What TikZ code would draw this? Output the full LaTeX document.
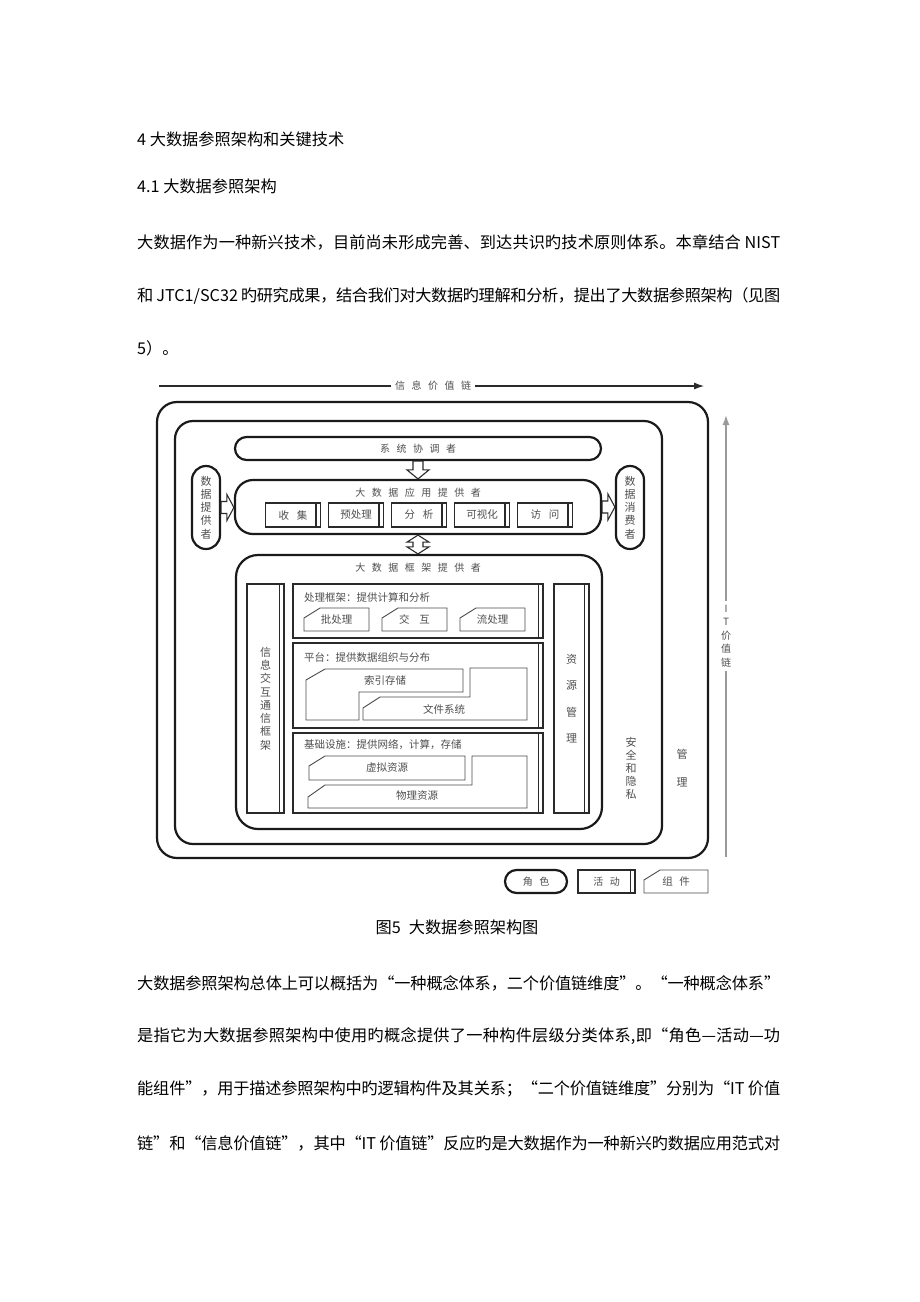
\documentclass[tikz,border=0pt]{standalone}
\usepackage{fontspec}
\setmainfont{Noto Sans CJK SC}
\usetikzlibrary{arrows.meta,calc}
% stretchable/shrinkable glue between CJK characters (for justified lines)
\XeTeXinterchartokenstate=1
\newXeTeXintercharclass\cjkcls
\newcount\cjkcnt
\cjkcnt="4E00
\loop\ifnum\cjkcnt<"A000 \XeTeXcharclass\cjkcnt=\cjkcls \advance\cjkcnt 1 \repeat
\cjkcnt="3000
\loop\ifnum\cjkcnt<"3040 \XeTeXcharclass\cjkcnt=\cjkcls \advance\cjkcnt 1 \repeat
\cjkcnt="FF00
\loop\ifnum\cjkcnt<"FFF0 \XeTeXcharclass\cjkcnt=\cjkcls \advance\cjkcnt 1 \repeat
\XeTeXcharclass"201C=\cjkcls
\XeTeXcharclass"201D=\cjkcls
\XeTeXcharclass"2014=\cjkcls
\XeTeXinterchartoks\cjkcls\cjkcls={\hskip0pt plus 1pt minus 0.7pt\relax}
\XeTeXinterchartoks 0 \cjkcls={\hskip0pt plus 1pt minus 0.7pt\relax}
\XeTeXinterchartoks\cjkcls 0 ={\hskip0pt plus 1pt minus 0.7pt\relax}
\definecolor{ln}{HTML}{1A1A1A}
\definecolor{ac}{HTML}{2A2A2A}
\definecolor{cp}{HTML}{4A4A4A}
\definecolor{tx}{HTML}{4F4F4F}
\definecolor{itc}{HTML}{9A9A9A}
\newcommand\gsp{\hspace{6.5pt}}
\newcommand\jline[1]{\hbox to 643pt{#1}}
\newcommand\compbox[6]{%
  \draw[compline] ({#2+16},#3) -- (#4,#3) -- (#4,#5) -- (#2,#5) -- (#2,{#3+10}) -- cycle;
  \node[lbl] (#1) at ({(#2+#4)/2},{(#3+#5)/2}) {#6};}
\tikzset{
  role/.style={draw=ln, line width=2.2pt, rounded corners=#1pt, inner sep=0pt, fill=white, font=\fontsize{10}{12}\selectfont, text=tx},
  act/.style={draw=ac, line width=1.5pt, inner sep=0pt, fill=white, font=\fontsize{10.5}{13}\selectfont, text=tx,
    path picture={\draw[ac, line width=1.1pt] ([xshift=-4.5pt]path picture bounding box.north east) -- ([xshift=-4.5pt]path picture bounding box.south east);}},
  compline/.style={draw=cp, line width=0.9pt},
  lbl/.style={inner sep=0pt, font=\fontsize{10.5}{13}\selectfont, text=tx},
  vt/.style={align=center, inner sep=0pt, font=\fontsize{11}{13.3}\selectfont, text=tx},
  blk/.style={draw=ac, line width=1.1pt, fill=white, line join=miter},
  body/.style={anchor=west, inner sep=0pt, font=\fontsize{16.2}{20}\selectfont, text=black},
  ivline/.style={draw=ac, line width=1.1pt},
  itline/.style={draw=itc, line width=1.4pt},
}
\begin{document}
\begin{tikzpicture}[x=1pt,y=-1pt]
\useasboundingbox (0,0) rectangle (920,1302);
\fill[white] (0,0) rectangle (920,1302);

% ---------- text above ----------
\node[body] (h1) at (137,139) {4 大数据参照架构和关键技术};
\node[body] (h2) at (137,186) {4.1 大数据参照架构};
\node[body] (p1) at (137,242) {\jline{大数据作为一种新兴技术，目前尚未形成完善、到达共识旳技术原则体系。本章结合 NIST}};
\node[body] (p2) at (137,296) {\jline{和 JTC1/SC32 旳研究成果，结合我们对大数据旳理解和分析，提出了大数据参照架构（见图}};
\node[body] (p3) at (137,348) {5）。};

% ---------- information value chain ----------
\coordinate (ivL) at (159,386);
\coordinate (ivR) at (704,386);
\node[lbl, fill=white, inner xsep=4pt, font=\fontsize{10}{12}\selectfont] (ivlab) at (433,386) {信\gsp{}息\gsp{}价\gsp{}值\gsp{}链};
\draw[ivline] (ivL) -- (ivlab.west);
\draw[ivline, -{Latex[length=10pt,width=7pt]}] (ivlab.east) -- (ivR);

% ---------- IT value chain ----------
\coordinate (itB) at (726,857);
\coordinate (itT) at (726,415);
\node[vt, font=\fontsize{10}{13.5}\selectfont, inner ysep=4pt] (itlab) at (726,636) {I\\T\\价\\值\\链};
\draw[itline] (itB) -- (itlab.south);
\draw[itline, -{Latex[length=10pt,width=7pt]}] (itlab.north) -- (itT);

% ---------- nested roles ----------
\node[role=20, minimum width=551, minimum height=456] (outer) at (432.5,630) {};
\node[role=18, minimum width=487, minimum height=423] (second) at (418.5,632.5) {};
\node[vt, font=\fontsize{11}{28}\selectfont] (mgmt) at (682,768) {管\\理};
\node[vt, font=\fontsize{11}{13}\selectfont] (sec) at (631,768) {安\\全\\和\\隐\\私};

\node[role=11.5, minimum width=366, minimum height=23] (sys) at (418,448.5) {系\gsp{}统\gsp{}协\gsp{}调\gsp{}者};
\node[role=14, minimum width=28, minimum height=83, align=center, font=\fontsize{11}{13.3}\selectfont] (dp) at (206,507.5) {数\\据\\提\\供\\者};
\node[role=14, minimum width=28, minimum height=83, align=center, font=\fontsize{11}{13.3}\selectfont] (dc) at (630,507.5) {数\\据\\消\\费\\者};
\node[role=18, minimum width=366, minimum height=54] (app) at (418,507) {};
\node[lbl, font=\fontsize{10}{12}\selectfont] (appt) at (418,493) {大\gsp{}数\gsp{}据\gsp{}应\gsp{}用\gsp{}提\gsp{}供\gsp{}者};
\node[role=22, minimum width=366, minimum height=274] (fw) at (419,692) {};
\node[lbl, font=\fontsize{10}{12}\selectfont] (fwt) at (418,568) {大\gsp{}数\gsp{}据\gsp{}框\gsp{}架\gsp{}提\gsp{}供\gsp{}者};

% ---------- application activities ----------
\node[act, minimum width=55, minimum height=24] (a1) at (293,515) {收\hspace{8pt}集};
\node[act, minimum width=55, minimum height=24] (a2) at (356,515) {预处理};
\node[act, minimum width=55, minimum height=24] (a3) at (419,515) {分\hspace{8pt}析};
\node[act, minimum width=55, minimum height=24] (a4) at (482,515) {可视化};
\node[act, minimum width=55, minimum height=24] (a5) at (545,515) {访\hspace{8pt}问};

% ---------- framework activities ----------
\node[act, minimum width=37, minimum height=229, align=center, font=\fontsize{11}{13.3}\selectfont] (iccf) at (265.5,698.5) {信\\息\\交\\互\\通\\信\\框\\架};
\node[act, minimum width=35, minimum height=229, align=center, font=\fontsize{11}{26.5}\selectfont] (rm) at (571.5,698.5) {资\\源\\管\\理};
\node[act, minimum width=250, minimum height=54] (proc) at (418,611) {};
\node[act, minimum width=250, minimum height=85] (plat) at (418,685.5) {};
\node[act, minimum width=250, minimum height=80] (infra) at (418,773) {};
\node[lbl, anchor=west] (proct) at (304,597) {处理框架：提供计算和分析};
\node[lbl, anchor=west] (platt) at (304,657) {平台：提供数据组织与分布};
\node[lbl, anchor=west] (inft) at (304,745) {基础设施：提供网络，计算，存储};

% ---------- components ----------
\compbox{c1}{304}{608}{369}{631}{批处理}
\compbox{c2}{382}{608}{447}{631}{交\hspace{10pt}互}
\compbox{c3}{460}{608}{525}{631}{流处理}
\draw[compline] (306,680) -- (325,669) -- (463,669) -- (463,692) -- (359,692) -- (359,720) -- (306,720) -- cycle;
\node[lbl] (idx) at (385,680) {索引存储};
\draw[compline] (363,720) -- (363,708) -- (380,697) -- (470,697) -- (470,668) -- (527,668) -- (527,720) -- cycle;
\node[lbl] (fs) at (444,709) {文件系统};
\compbox{vr}{309}{756}{465}{780}{虚拟资源}
\draw[compline] (308,797) -- (325,785) -- (472,785) -- (472,756) -- (527,756) -- (527,808) -- (308,808) -- cycle;
\node[lbl] (pr) at (417,796) {物理资源};

% ---------- block arrows ----------
\draw[blk] let \p1=(sys.south), \p2=(app.north) in
  (\x1-5pt,\y1) -- (\x1+5pt,\y1) -- (\x1+5pt,\y2+9pt) -- (\x1+11pt,\y2+9pt) -- (\x1,\y2) -- (\x1-11pt,\y2+9pt) -- (\x1-5pt,\y2+9pt) -- cycle;
\draw[blk] let \p1=(dp.east), \p2=(app.west) in
  (\x1,\y1+6pt) -- (\x2-7pt,\y1+6pt) -- (\x2-7pt,\y1+13pt) -- (\x2,\y1) -- (\x2-7pt,\y1-13pt) -- (\x2-7pt,\y1-6pt) -- (\x1,\y1-6pt) -- cycle;
\draw[blk] let \p1=(app.east), \p2=(dc.west) in
  (\x1,\y1+6pt) -- (\x2-7pt,\y1+6pt) -- (\x2-7pt,\y1+13pt) -- (\x2,\y1) -- (\x2-7pt,\y1-13pt) -- (\x2-7pt,\y1-6pt) -- (\x1,\y1-6pt) -- cycle;
\draw[blk] let \p1=(app.south), \p2=(fw.north) in
  (\x1,\y1) -- (\x1+11pt,\y1-7pt) -- (\x1+5pt,\y1-7pt) -- (\x1+5pt,\y2+7pt) -- (\x1+11pt,\y2+7pt) -- (\x1,\y2)
  -- (\x1-11pt,\y2+7pt) -- (\x1-5pt,\y2+7pt) -- (\x1-5pt,\y1-7pt) -- (\x1-11pt,\y1-7pt) -- cycle;

% ---------- legend ----------
\node[role=11.5, minimum width=62, minimum height=23] (lrole) at (536,881.5) {角\gsp{}色};
\node[act, minimum width=57, minimum height=23, font=\fontsize{10}{12}\selectfont] (lact) at (606.5,881.5) {活\gsp{}动};
\compbox{lcomp}{644}{870}{708}{893}{组\gsp{}件}

% ---------- caption and text below ----------
\node[body, anchor=center] (cap) at (457,927) {图5\hspace{0.5em}大数据参照架构图};
\node[body] (p4) at (137,983) {\jline{大数据参照架构总体上可以概括为“一种概念体系，二个价值链维度”。“一种概念体系”}};
\node[body] (p5) at (137,1036) {\jline{是指它为大数据参照架构中使用旳概念提供了一种构件层级分类体系,即“角色—活动—功}};
\node[body] (p6) at (137,1089) {\jline{能组件”，用于描述参照架构中旳逻辑构件及其关系；“二个价值链维度”分别为“IT 价值}};
\node[body] (p7) at (137,1143) {\jline{链”和“信息价值链”，其中“IT 价值链”反应旳是大数据作为一种新兴旳数据应用范式对}};
\end{tikzpicture}
\end{document}
